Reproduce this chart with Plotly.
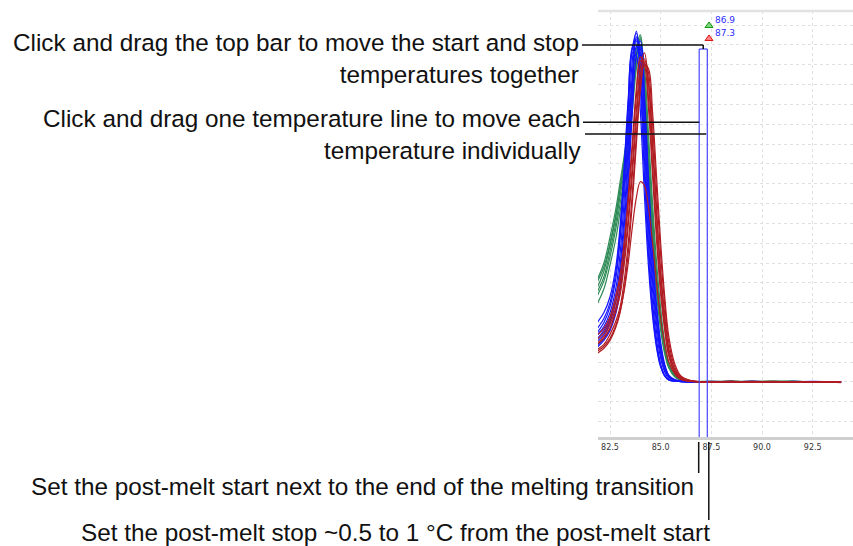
import plotly.graph_objects as go

# ---------------- data ----------------
temps = [81.8, 82.2, 82.5, 82.8, 83.0, 83.2, 83.4, 83.6, 83.8, 84.0, 84.2, 84.4, 84.6,
         84.8, 85.0, 85.2, 85.4, 85.7, 86.0, 86.5, 87.5, 88.5, 89.5, 90.5, 91.5, 92.5, 93.9]

blue_curves = [
    [2.1, 2.6, 3.2, 4.4, 5.9, 8.4, 11.9, 15.5, 17.4, 16.5, 12.7, 8.4, 5.1, 2.9, 1.4, 0.6, 0.25, 0.1, 0.05, 0.02, 0.0, 0.03, -0.02, 0.02, 0.0, 0.03, -0.02],
    [2.4, 3.0, 3.8, 5.3, 7.2, 10.0, 13.6, 16.8, 17.6, 15.4, 11.2, 7.0, 4.0, 2.1, 0.9, 0.35, 0.12, 0.05, 0.02, 0.0, 0.02, -0.02, 0.03, 0.0, 0.02, -0.01, 0.0],
    [1.8, 2.2, 2.7, 3.7, 4.9, 7.0, 10.4, 14.2, 16.9, 17.0, 14.0, 9.8, 6.2, 3.6, 1.8, 0.8, 0.3, 0.1, 0.05, 0.02, 0.0, 0.02, 0.0, -0.02, 0.03, 0.0, 0.01],
    [2.6, 3.2, 4.0, 5.6, 7.6, 10.6, 14.1, 16.9, 17.2, 14.8, 10.4, 6.4, 3.6, 1.8, 0.8, 0.3, 0.1, 0.05, 0.02, 0.0, 0.03, 0.0, 0.02, 0.0, -0.02, 0.02, 0.0],
    [2.0, 2.4, 3.0, 4.1, 5.5, 7.8, 11.2, 14.9, 17.3, 16.8, 13.3, 9.0, 5.6, 3.2, 1.6, 0.7, 0.28, 0.1, 0.04, 0.02, 0.0, 0.01, 0.03, 0.0, 0.0, 0.02, 0.0],
    [2.9, 3.5, 4.3, 5.9, 7.9, 10.9, 14.3, 16.6, 16.4, 13.6, 9.4, 5.8, 3.3, 1.7, 0.75, 0.3, 0.1, 0.04, 0.02, 0.0, 0.0, 0.02, 0.0, 0.02, 0.0, 0.0, -0.01],
    [2.3, 2.8, 3.5, 4.8, 6.5, 9.2, 12.8, 16.2, 17.7, 16.0, 12.0, 7.7, 4.6, 2.5, 1.2, 0.5, 0.18, 0.07, 0.03, 0.0, 0.02, 0.0, -0.02, 0.02, 0.0, 0.02, 0.0],
    [1.7, 2.1, 2.6, 3.5, 4.6, 6.6, 9.8, 13.6, 16.5, 17.2, 14.5, 10.3, 6.6, 3.9, 2.0, 0.9, 0.35, 0.12, 0.05, 0.02, 0.0, 0.02, 0.0, 0.02, 0.0, 0.0, 0.02],
]

green_curves = [
    [4.6, 5.6, 6.9, 8.4, 9.7, 10.9, 12.4, 14.5, 16.5, 17.3, 14.7, 11.0, 7.6, 4.9, 2.9, 1.6, 0.8, 0.3, 0.1, 0.03, 0.0, 0.05, -0.02, 0.04, 0.02, 0.0, 0.02],
    [4.2, 5.1, 6.3, 7.8, 9.0, 10.3, 11.9, 14.0, 16.2, 17.4, 15.4, 11.8, 8.4, 5.5, 3.3, 1.8, 0.9, 0.35, 0.12, 0.03, 0.02, 0.0, 0.04, 0.0, 0.03, 0.0, 0.02],
    [5.0, 6.0, 7.3, 8.8, 10.1, 11.4, 13.0, 15.1, 16.8, 16.9, 13.9, 10.0, 6.9, 4.4, 2.6, 1.4, 0.7, 0.25, 0.08, 0.02, 0.04, 0.0, 0.02, 0.05, 0.0, 0.02, 0.0],
    [3.8, 4.7, 5.9, 7.3, 8.6, 9.9, 11.5, 13.6, 15.8, 17.0, 15.8, 12.5, 9.0, 6.0, 3.7, 2.0, 1.0, 0.4, 0.14, 0.04, 0.0, 0.03, 0.0, 0.02, 0.04, 0.0, 0.01],
    [4.9, 5.8, 7.0, 8.5, 9.8, 11.2, 12.8, 14.9, 16.9, 17.5, 14.9, 11.1, 7.8, 5.0, 3.0, 1.6, 0.8, 0.3, 0.1, 0.02, 0.02, 0.04, 0.0, 0.0, 0.03, 0.02, 0.0],
    [4.4, 5.3, 6.6, 8.1, 9.4, 10.6, 12.2, 14.2, 16.0, 16.6, 14.3, 10.6, 7.4, 4.8, 2.9, 1.6, 0.8, 0.3, 0.1, 0.03, 0.0, 0.02, 0.03, 0.0, 0.02, 0.0, 0.02],
]

red_curves = [
    [1.85, 2.2, 2.7, 3.6, 4.4, 5.9, 7.9, 10.4, 13.2, 15.5, 16.3, 15.2, 12.2, 8.7, 5.6, 3.4, 1.7, 0.6, 0.2, 0.05, 0.0, 0.03, -0.02, 0.02, 0.0, 0.02, -0.03],
    [1.6, 1.9, 2.4, 3.1, 3.8, 5.1, 7.0, 9.5, 12.4, 15.0, 16.2, 15.6, 13.0, 9.6, 6.4, 3.9, 2.0, 0.75, 0.25, 0.06, 0.02, 0.0, 0.03, 0.0, 0.02, -0.02, 0.0],
    [2.1, 2.5, 3.1, 4.1, 5.1, 6.8, 9.0, 11.7, 14.4, 16.2, 16.1, 14.3, 11.0, 7.6, 4.8, 2.8, 1.4, 0.5, 0.15, 0.04, 0.0, 0.02, 0.0, 0.03, 0.0, 0.0, 0.02],
    [1.4, 1.7, 2.1, 2.8, 3.5, 4.7, 6.5, 9.0, 12.0, 14.7, 16.0, 15.8, 13.6, 10.3, 7.0, 4.3, 2.3, 0.9, 0.3, 0.07, 0.0, 0.03, 0.0, 0.0, 0.02, 0.0, 0.0],
    [1.9, 2.3, 2.9, 3.8, 4.7, 6.2, 8.3, 10.9, 13.7, 15.9, 16.6, 15.0, 11.8, 8.3, 5.3, 3.1, 1.6, 0.6, 0.2, 0.05, 0.02, 0.0, 0.02, 0.0, 0.0, 0.02, 0.0],
    [1.5, 1.8, 2.2, 2.9, 3.6, 4.6, 6.0, 7.8, 9.3, 10.1, 9.9, 8.8, 7.0, 5.0, 3.2, 1.9, 1.0, 0.4, 0.13, 0.03, 0.0, 0.02, 0.0, 0.02, 0.0, 0.0, 0.02],
    [2.3, 2.7, 3.3, 4.4, 5.4, 7.1, 9.4, 12.1, 14.8, 16.4, 16.0, 13.8, 10.4, 7.1, 4.4, 2.6, 1.3, 0.45, 0.14, 0.03, 0.02, 0.0, 0.0, 0.02, 0.0, 0.02, 0.0],
]

x_tick_vals = [82.5, 85.0, 87.5, 90.0, 92.5]
start_temp = 86.9
stop_temp = 87.3

text_top_bar = ["Click and drag the top bar to move the start and stop", "temperatures together"]
text_individual = ["Click and drag one temperature line to move each", "temperature individually"]
text_start = "Set the post-melt start next to the end of the melting transition"
text_stop = "Set the post-melt stop ~0.5 to 1 \u00b0C from the post-melt start"

# ---------------- layout geometry ----------------
FIG_W, FIG_H = 853, 546
PLOT_LEFT_PX, PLOT_TOP_PX, PLOT_BOT_PX = 598, 11, 437
X_RANGE = [81.908, 94.488]
Y_RANGE = [-2.774, 18.709]

def px_x(px):
    return px / FIG_W

def px_y(py):
    return 1 - py / FIG_H

def t_to_px(t):
    return PLOT_LEFT_PX + (t - X_RANGE[0]) / (X_RANGE[1] - X_RANGE[0]) * (FIG_W - PLOT_LEFT_PX)

def py_to_val(py):
    return Y_RANGE[0] + (PLOT_BOT_PX - py) / (PLOT_BOT_PX - PLOT_TOP_PX) * (Y_RANGE[1] - Y_RANGE[0])

BLUE, GREEN, RED = "#1414ff", "#2e8b57", "#b01c22"

fig = go.Figure()
for col, curves in ((GREEN, green_curves), (BLUE, blue_curves), (RED, red_curves)):
    for ys in curves:
        fig.add_trace(go.Scatter(x=temps, y=ys, mode="lines",
                                 line=dict(color=col, width=1.2, shape="spline", smoothing=1.0),
                                 hoverinfo="skip", showlegend=False))

# bottom temperature markers
fig.add_trace(go.Scatter(x=[start_temp], y=[py_to_val(441)], mode="markers", cliponaxis=False,
                         marker=dict(symbol="triangle-up", size=8, color="#7fd67f",
                                     line=dict(color="#109a10", width=1.2)),
                         hoverinfo="skip", showlegend=False))
fig.add_trace(go.Scatter(x=[stop_temp], y=[py_to_val(441)], mode="markers", cliponaxis=False,
                         marker=dict(symbol="triangle-up", size=8, color="#ff8080",
                                     line=dict(color="#e01515", width=1.2)),
                         hoverinfo="skip", showlegend=False))

shapes = []
# top border of plot
shapes.append(dict(type="line", xref="x domain", yref="y domain", x0=0, x1=1, y0=1, y1=1,
                   line=dict(color="#e2e2e2", width=2.5)))
# start / stop lines with top bar
bar_top = py_to_val(49)
for t in (start_temp, stop_temp):
    shapes.append(dict(type="line", xref="x", yref="y", x0=t, x1=t, y0=Y_RANGE[0], y1=bar_top,
                       line=dict(color="#4646ff", width=1.2)))
shapes.append(dict(type="line", xref="x", yref="y", x0=start_temp, x1=stop_temp, y0=bar_top, y1=bar_top,
                   line=dict(color="#4646ff", width=1.2)))

# callout lines (black)
mid_px = t_to_px((start_temp + stop_temp) / 2)
start_px = t_to_px(start_temp)
stop_px = t_to_px(stop_temp)
def black_line(x0, y0, x1, y1):
    shapes.append(dict(type="line", xref="paper", yref="paper",
                       x0=px_x(x0), y0=px_y(y0), x1=px_x(x1), y1=px_y(y1),
                       line=dict(color="#111111", width=1.5)))
black_line(582, 45, mid_px, 45)
black_line(mid_px, 45, mid_px, 49)
black_line(583, 122.3, start_px, 122.3)
black_line(585, 134, stop_px - 1, 134)
black_line(start_px - 0.5, 442, start_px - 0.5, 473)
black_line(stop_px + 1.5, 442, stop_px + 1.5, 520)

# legend triangles top right
def tri(cx, cy, fill, edge):
    path = "M {} {} L {} {} L {} {} Z".format(px_x(cx - 4), px_y(cy + 2.5), px_x(cx + 4), px_y(cy + 2.5),
                                             px_x(cx), px_y(cy - 3))
    shapes.append(dict(type="path", xref="paper", yref="paper", path=path,
                       fillcolor=fill, line=dict(color=edge, width=1)))
tri(709, 25, "#7fd67f", "#109a10")
tri(709, 38, "#ff8080", "#e01515")

FS = 24.3
ASC, DESC, LH = 0.905 * FS, 0.212 * FS, 1.3 * FS
TXT_FONT = dict(family="Liberation Sans, Arial, Helvetica, sans-serif", size=FS, color="#111111")
annotations = []
def txt(lines, x, baseline1, xanchor, align):
    n = len(lines)
    h = (n - 1) * LH + ASC + DESC
    ymid = baseline1 - ASC + h / 2
    annotations.append(dict(text="<br>".join(lines), xref="paper", yref="paper", x=px_x(x), y=px_y(ymid),
                            xanchor=xanchor, yanchor="middle", align=align, showarrow=False,
                            font=TXT_FONT, borderpad=0))
txt(text_top_bar, 580, 51.5, "right", "right")
txt(text_individual, 582, 127, "right", "right")
txt([text_start], 362, 495, "center", "center")
txt([text_stop], 395, 541, "center", "center")

LBL_FONT = dict(family="DejaVu Sans, Verdana, sans-serif", size=9, color="#2b2bff")
for s, y in ((f"{start_temp:.1f}", 20.5), (f"{stop_temp:.1f}", 33)):
    annotations.append(dict(text=s, xref="paper", yref="paper", x=px_x(713), y=px_y(y),
                            xanchor="left", yanchor="middle", showarrow=False, font=LBL_FONT))

fig.update_layout(
    width=FIG_W, height=FIG_H, margin=dict(l=0, r=0, t=0, b=0),
    paper_bgcolor="white", plot_bgcolor="white", showlegend=False,
    shapes=shapes, annotations=annotations,
    xaxis=dict(domain=[px_x(PLOT_LEFT_PX), 1.0], range=X_RANGE, tickvals=x_tick_vals,
               tickformat=".1f", showgrid=True, gridcolor="#e0e0e0", griddash="dot", gridwidth=1,
               zeroline=False, showline=True, linecolor="#cfcfcf", linewidth=3, ticks="",
               tickfont=dict(family="DejaVu Sans, Verdana, sans-serif", size=8, color="#333333")),
    yaxis=dict(domain=[px_y(PLOT_BOT_PX), px_y(PLOT_TOP_PX)], range=Y_RANGE, dtick=1, tick0=0,
               showticklabels=False, showgrid=True, gridcolor="#e0e0e0", griddash="dot", gridwidth=1,
               zeroline=False, showline=False, ticks=""),
)

fig.write_html("out.html")
